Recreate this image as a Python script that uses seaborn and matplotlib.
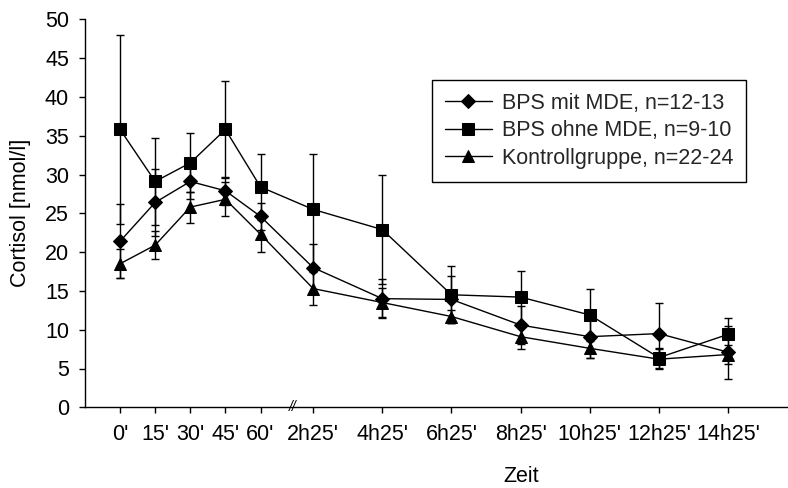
import matplotlib
matplotlib.use("Agg")
import matplotlib.pyplot as plt
import seaborn as sns
import pandas as pd
import numpy as np

# ---- data ----
time_labels = ["0'", "15'", "30'", "45'", "60'", "2h25'", "4h25'", "6h25'",
               "8h25'", "10h25'", "12h25'", "14h25'"]
# axis positions of the time points (broken axis: 15 min steps, then 2 h steps)
time_pos = [0, 1, 2, 3, 4, 5.5, 7.47, 9.44, 11.41, 13.38, 15.35, 17.32]

mit_mde = [21.4, 26.4, 29.1, 27.9, 24.6, 18.0, 14.0, 13.9, 10.6, 9.1, 9.5, 7.1]
mit_mde_err = [4.8, 4.3, 2.3, 1.8, 1.7, 3.1, 2.5, 3.0, 2.5, 2.7, 3.9, 3.4]

ohne_mde = [35.8, 29.1, 31.5, 35.8, 28.4, 25.5, 22.9, 14.5, 14.2, 11.9, 6.4, 9.4]
ohne_mde_err = [12.2, 5.6, 3.8, 6.2, 4.3, 7.2, 7.0, 3.7, 3.4, 3.4, 1.3, 2.1]

kontroll = [18.5, 20.9, 25.8, 26.8, 22.3, 15.3, 13.5, 11.7, 9.1, 7.6, 6.2, 6.8]
kontroll_err = [1.9, 1.8, 2.0, 2.2, 2.3, 2.1, 1.9, 0.9, 1.6, 1.2, 1.3, 1.2]

series = [
    ("BPS mit MDE, n=12-13", mit_mde, mit_mde_err, "D", 7.0),
    ("BPS ohne MDE, n=9-10", ohne_mde, ohne_mde_err, "s", 8.3),
    ("Kontrollgruppe, n=22-24", kontroll, kontroll_err, "^", 9.0),
]

sns.set_theme(style="white")
plt.rcParams['font.family'] = ['Liberation Sans', 'DejaVu Sans']
FS = 15.5

fig = plt.figure(figsize=(7.88, 4.88), dpi=100)
ax = fig.add_axes([85 / 788, 1 - 407.3 / 488, 702 / 788, 388 / 488])

for name, vals, errs, mk, ms in series:
    df = pd.DataFrame({"pos": time_pos, "val": vals})
    sns.lineplot(data=df, x="pos", y="val", ax=ax, color="black",
                 marker=mk, markersize=ms, markeredgecolor="black",
                 markerfacecolor="black", linewidth=1.0, label=name,
                 sort=False, estimator=None)
    ax.errorbar(time_pos, vals, yerr=errs, fmt="none", ecolor="black",
                elinewidth=1.0, capsize=2.7, capthick=1.0, zorder=1)

ax.set_xlim(-1.0, 19.0)
ax.set_ylim(0, 50)
ax.set_yticks(np.arange(0, 51, 5))
ax.set_xticks(time_pos)
ax.set_xticklabels(time_labels)

for s in ["top", "right"]:
    ax.spines[s].set_visible(False)
for s in ["left", "bottom"]:
    ax.spines[s].set_color("black")
    ax.spines[s].set_linewidth(1.0)

ax.tick_params(axis="both", which="both", direction="out", length=4.5,
               width=1.0, color="black", labelsize=FS, labelcolor="black")
ax.tick_params(axis="x", pad=7.5, bottom=True)
ax.tick_params(axis="y", pad=7, left=True)
ax.grid(False)

ax.set_ylabel("Cortisol [nmol/l]", fontsize=FS, color="black")
ax.yaxis.set_label_coords(-(85 - 31) / 702, 0.5)
ax.set_xlabel("Zeit", fontsize=FS, color="black")
ax.xaxis.set_label_coords((521 - 85) / 702, -(466 - 407.3) / 388)

# axis break marker
ax.text(4.91, 0, "//", fontsize=10, style="italic", ha="center", va="center",
        clip_on=False, color="black")

leg = ax.legend(loc="upper left", bbox_to_anchor=((431.7 - 85) / 702, 1 - (80 - 19.3) / 388),
                borderaxespad=0, fontsize=FS, frameon=True, fancybox=False,
                edgecolor="black", framealpha=1, handlelength=2.2,
                handletextpad=0.45, labelspacing=0.3, borderpad=0.6)
leg.get_frame().set_linewidth(1.0)

fig.savefig("out.png", dpi=100)
